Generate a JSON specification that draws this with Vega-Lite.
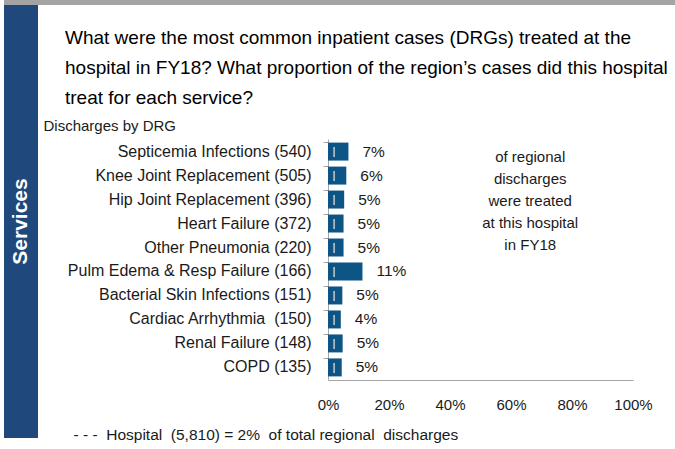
{
  "$schema": "https://vega.github.io/schema/vega-lite/v6.json",
  "padding": {"left": 4, "top": 0, "right": 0, "bottom": 0},
  "background": "white",
  "config": {"font": "Liberation Sans", "view": {"stroke": null}},
  "spacing": 0,
  "vconcat": [
    {
      "width": 671, "height": 5,
      "view": {"fill": "#a3a3a3", "stroke": null},
      "data": {"values": []},
      "mark": "rect"
    },
    {
      "spacing": 5,
      "hconcat": [
        {
          "width": 34, "height": 433,
          "view": {"fill": "#1f497d", "stroke": null},
          "data": {"values": [{"t": "Services"}]},
          "mark": {"type": "text", "angle": 270, "color": "white", "fontSize": 21, "fontWeight": "bold", "align": "center", "baseline": "middle"},
          "encoding": {"text": {"field": "t"}}
        },
        {
          "spacing": 0,
          "vconcat": [
            {
              "width": 1, "height": 24,
              "data": {"values": []},
              "mark": "rect"
            },
            {
              "width": 305, "height": 241,
              "title": {
                "text": ["What were the most common inpatient cases (DRGs) treated at the", "hospital in FY18? What proportion of the region’s cases did this hospital", "treat for each service?"],
                "anchor": "start", "frame": "group", "dx": -263,
                "fontSize": 19, "fontWeight": "normal", "color": "#000000",
                "lineHeight": 30, "offset": 10
              },
              "layer": [
                {
                  "data": {"values": [
                    {"drg": "Septicemia Infections (540)", "pct": 0.067, "label": "7%"},
                    {"drg": "Knee Joint Replacement (505)", "pct": 0.060, "label": "6%"},
                    {"drg": "Hip Joint Replacement (396)", "pct": 0.053, "label": "5%"},
                    {"drg": "Heart Failure (372)", "pct": 0.051, "label": "5%"},
                    {"drg": "Other Pneumonia (220)", "pct": 0.051, "label": "5%"},
                    {"drg": "Pulm Edema & Resp Failure (166)", "pct": 0.113, "label": "11%"},
                    {"drg": "Bacterial Skin Infections (151)", "pct": 0.047, "label": "5%"},
                    {"drg": "Cardiac Arrhythmia \u00a0(150)", "pct": 0.042, "label": "4%"},
                    {"drg": "Renal Failure (148)", "pct": 0.048, "label": "5%"},
                    {"drg": "COPD (135)", "pct": 0.045, "label": "5%"}
                  ]},
                  "encoding": {
                    "y": {
                      "field": "drg", "type": "nominal", "sort": null,
                      "scale": {"paddingInner": 0.25, "paddingOuter": 0.15},
                      "axis": {
                        "title": "Discharges by DRG", "titleAngle": 0, "titleAlign": "left", "titleBaseline": "middle",
                        "titleX": -285, "titleY": -14, "titleFontSize": 15, "titleFontWeight": "normal", "titleColor": "#1a1a1a",
                        "domainColor": "#a6a6a6", "tickColor": "#a6a6a6", "tickSize": 5, "bandPosition": 0,
                        "labelPadding": 12, "labelFontSize": 16, "labelColor": "#1a1a1a", "labelLimit": 0
                      }
                    },
                    "x": {
                      "field": "pct", "type": "quantitative",
                      "scale": {"domain": [0, 1], "nice": false},
                      "axis": {
                        "values": [0, 0.2, 0.4, 0.6, 0.8, 1], "format": ".0%", "ticks": false, "grid": false,
                        "domainColor": "#a6a6a6", "labelPadding": 17, "labelFontSize": 15, "labelColor": "#1a1a1a", "labelFlush": false,
                        "title": "- - - \u00a0Hospital \u00a0(5,810) = 2% \u00a0of total regional \u00a0discharges",
                        "titleX": -255, "titleY": 54, "titleAlign": "left", "titleBaseline": "middle",
                        "titleFontSize": 15.5, "titleFontWeight": "normal", "titleColor": "#1a1a1a"
                      }
                    }
                  },
                  "layer": [
                    {"mark": {"type": "bar", "color": "#0c5585"}},
                    {
                      "mark": {"type": "text", "align": "left", "baseline": "middle", "dx": 14, "fontSize": 15.5, "color": "#1a1a1a"},
                      "encoding": {"text": {"field": "label"}}
                    }
                  ]
                },
                {
                  "data": {"values": [{"v": 0.02}]},
                  "mark": {"type": "rule", "color": "#c8c8c8", "strokeWidth": 1.5, "strokeDash": [10, 14], "strokeDashOffset": 16},
                  "encoding": {"x": {"field": "v", "type": "quantitative"}}
                },
                {
                  "data": {"values": [{"note": "of regional\ndischarges\nwere treated\nat this hospital\nin FY18", "xv": 0.663, "yv": "Septicemia Infections (540)"}]},
                  "mark": {"type": "text", "align": "center", "baseline": "middle", "dy": 5, "lineBreak": "\n", "lineHeight": 22, "fontSize": 15, "color": "#1a1a1a"},
                  "encoding": {
                    "x": {"field": "xv", "type": "quantitative"},
                    "y": {"field": "yv", "type": "nominal", "sort": null},
                    "text": {"field": "note"}
                  }
                }
              ]
            }
          ]
        }
      ]
    }
  ]
}
